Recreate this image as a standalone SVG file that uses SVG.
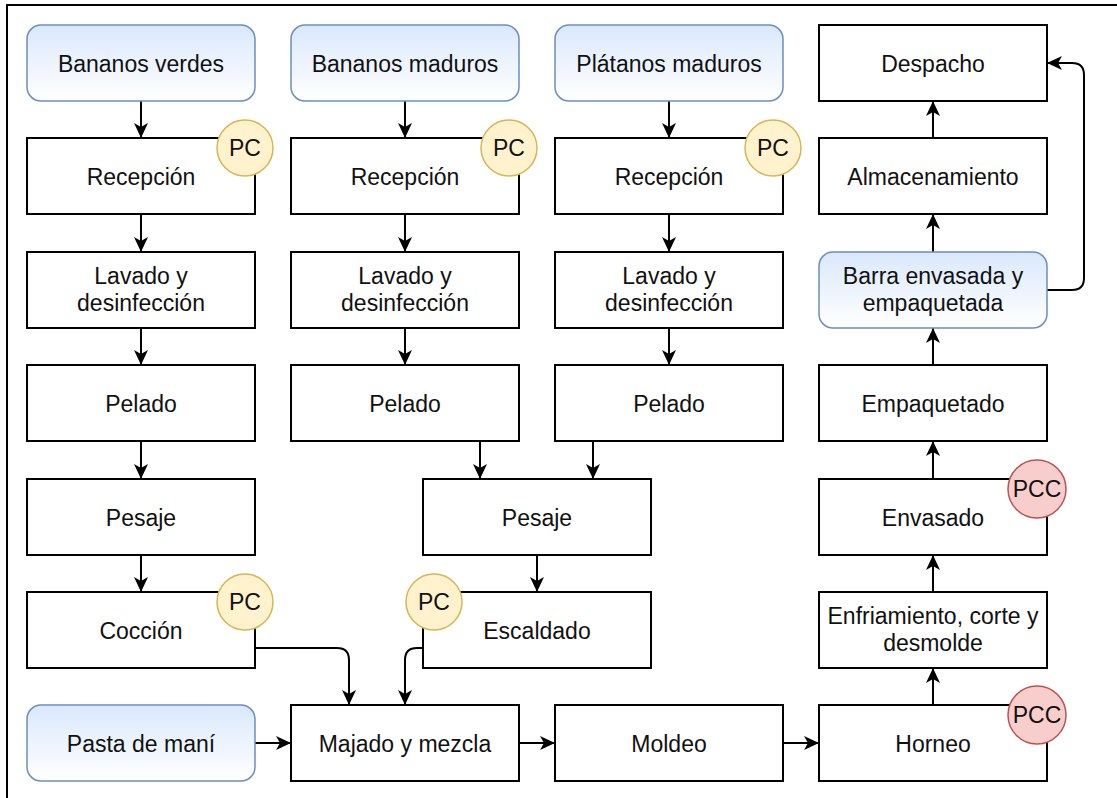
<svg xmlns="http://www.w3.org/2000/svg" width="1117" height="798" viewBox="0 0 1117 798">
  <defs>
    <linearGradient id="blueFill" x1="0" y1="0" x2="0" y2="1">
      <stop offset="0" stop-color="#dae8fc"/>
      <stop offset="1" stop-color="#ffffff"/>
    </linearGradient>
    <marker id="arrow" markerUnits="userSpaceOnUse" markerWidth="17" markerHeight="15" refX="15" refY="7" orient="auto">
      <path d="M0,0 L15,7 L0,14 L4,7 Z" fill="#000"/>
    </marker>
    <style>
      .box { fill: #ffffff; stroke: #000; stroke-width: 2; }
      .start { fill: url(#blueFill); stroke: #6c8ebf; stroke-width: 1.5; }
      .pc { fill: #fff2cc; stroke: #d6b656; stroke-width: 1.5; }
      .pcc { fill: #f8cecc; stroke: #b85450; stroke-width: 1.5; }
      .lbl { font-family: "Liberation Sans", Arial, sans-serif; font-size: 23px; fill: #111; text-anchor: middle; }
      .edge { fill: none; stroke: #000; stroke-width: 2; marker-end: url(#arrow); }
      .frame { fill: none; stroke: #000; stroke-width: 2; }
    </style>
  </defs>

  <rect width="1117" height="798" fill="#ffffff"/>
  <rect class="frame" x="7" y="5" width="1130" height="820"/>

  <!-- connectors -->
  <g id="connectors">
    <!-- Bananos verdes line -->
    <path class="edge" d="M141,101 V138"/>
    <path class="edge" d="M141,214 V252"/>
    <path class="edge" d="M141,328 V365"/>
    <path class="edge" d="M141,441 V479"/>
    <path class="edge" d="M141,555 V592"/>
    <!-- Bananos maduros line -->
    <path class="edge" d="M405,101 V138"/>
    <path class="edge" d="M405,214 V252"/>
    <path class="edge" d="M405,328 V365"/>
    <path class="edge" d="M480,441 V479"/>
    <!-- Plátanos maduros line -->
    <path class="edge" d="M669,101 V138"/>
    <path class="edge" d="M669,214 V252"/>
    <path class="edge" d="M669,328 V365"/>
    <path class="edge" d="M593,441 V479"/>
    <!-- Pesaje to Escaldado -->
    <path class="edge" d="M537,555 V592"/>
    <!-- into Majado y mezcla -->
    <path class="edge" d="M255,648 H337 Q349,648 349,660 V705"/>
    <path class="edge" d="M423,648 H417 Q405,648 405,660 V705"/>
    <path class="edge" d="M255,743 H291"/>
    <!-- bottom row -->
    <path class="edge" d="M519,743 H555"/>
    <path class="edge" d="M783,743 H819"/>
    <!-- right column, upward -->
    <path class="edge" d="M933,705 V668"/>
    <path class="edge" d="M933,592 V555"/>
    <path class="edge" d="M933,479 V441"/>
    <path class="edge" d="M933,365 V328"/>
    <path class="edge" d="M933,252 V214"/>
    <path class="edge" d="M933,138 V101"/>
    <!-- packed bar straight to dispatch -->
    <path class="edge" d="M1047,290 H1072 Q1084,290 1084,278 V75 Q1084,63 1072,63 H1047"/>
  </g>

  <!-- column 1 -->
  <g id="bananos-verdes">
    <rect class="start" x="27" y="25" width="228" height="76" rx="14"/>
    <text class="lbl" x="141" y="71.5">Bananos verdes</text>
  </g>
  <g id="recepcion-1">
    <rect class="box" x="27" y="138" width="228" height="76"/>
    <text class="lbl" x="141" y="184.5">Recepción</text>
  </g>
  <g id="lavado-1">
    <rect class="box" x="27" y="252" width="228" height="76"/>
    <text class="lbl" x="141" y="283.5">Lavado y</text>
    <text class="lbl" x="141" y="310.5">desinfección</text>
  </g>
  <g id="pelado-1">
    <rect class="box" x="27" y="365" width="228" height="76"/>
    <text class="lbl" x="141" y="411.5">Pelado</text>
  </g>
  <g id="pesaje-1">
    <rect class="box" x="27" y="479" width="228" height="76"/>
    <text class="lbl" x="141" y="525.5">Pesaje</text>
  </g>
  <g id="coccion">
    <rect class="box" x="27" y="592" width="228" height="76"/>
    <text class="lbl" x="141" y="638.5">Cocción</text>
  </g>
  <g id="pasta-de-mani">
    <rect class="start" x="27" y="705" width="228" height="76" rx="14"/>
    <text class="lbl" x="141" y="751.5">Pasta de maní</text>
  </g>

  <!-- column 2 -->
  <g id="bananos-maduros">
    <rect class="start" x="291" y="25" width="228" height="76" rx="14"/>
    <text class="lbl" x="405" y="71.5">Bananos maduros</text>
  </g>
  <g id="recepcion-2">
    <rect class="box" x="291" y="138" width="228" height="76"/>
    <text class="lbl" x="405" y="184.5">Recepción</text>
  </g>
  <g id="lavado-2">
    <rect class="box" x="291" y="252" width="228" height="76"/>
    <text class="lbl" x="405" y="283.5">Lavado y</text>
    <text class="lbl" x="405" y="310.5">desinfección</text>
  </g>
  <g id="pelado-2">
    <rect class="box" x="291" y="365" width="228" height="76"/>
    <text class="lbl" x="405" y="411.5">Pelado</text>
  </g>
  <g id="majado">
    <rect class="box" x="291" y="705" width="228" height="76"/>
    <text class="lbl" x="405" y="751.5">Majado y mezcla</text>
  </g>

  <!-- shared middle -->
  <g id="pesaje-2">
    <rect class="box" x="423" y="479" width="228" height="76"/>
    <text class="lbl" x="537" y="525.5">Pesaje</text>
  </g>
  <g id="escaldado">
    <rect class="box" x="423" y="592" width="228" height="76"/>
    <text class="lbl" x="537" y="638.5">Escaldado</text>
  </g>

  <!-- column 3 -->
  <g id="platanos-maduros">
    <rect class="start" x="555" y="25" width="228" height="76" rx="14"/>
    <text class="lbl" x="669" y="71.5">Plátanos maduros</text>
  </g>
  <g id="recepcion-3">
    <rect class="box" x="555" y="138" width="228" height="76"/>
    <text class="lbl" x="669" y="184.5">Recepción</text>
  </g>
  <g id="lavado-3">
    <rect class="box" x="555" y="252" width="228" height="76"/>
    <text class="lbl" x="669" y="283.5">Lavado y</text>
    <text class="lbl" x="669" y="310.5">desinfección</text>
  </g>
  <g id="pelado-3">
    <rect class="box" x="555" y="365" width="228" height="76"/>
    <text class="lbl" x="669" y="411.5">Pelado</text>
  </g>
  <g id="moldeo">
    <rect class="box" x="555" y="705" width="228" height="76"/>
    <text class="lbl" x="669" y="751.5">Moldeo</text>
  </g>

  <!-- column 4 -->
  <g id="despacho">
    <rect class="box" x="819" y="25" width="228" height="76"/>
    <text class="lbl" x="933" y="71.5">Despacho</text>
  </g>
  <g id="almacenamiento">
    <rect class="box" x="819" y="138" width="228" height="76"/>
    <text class="lbl" x="933" y="184.5">Almacenamiento</text>
  </g>
  <g id="barra">
    <rect class="start" x="819" y="252" width="228" height="76" rx="14"/>
    <text class="lbl" x="933" y="283.5">Barra envasada y</text>
    <text class="lbl" x="933" y="310.5">empaquetada</text>
  </g>
  <g id="empaquetado">
    <rect class="box" x="819" y="365" width="228" height="76"/>
    <text class="lbl" x="933" y="411.5">Empaquetado</text>
  </g>
  <g id="envasado">
    <rect class="box" x="819" y="479" width="228" height="76"/>
    <text class="lbl" x="933" y="525.5">Envasado</text>
  </g>
  <g id="enfriamiento">
    <rect class="box" x="819" y="592" width="228" height="76"/>
    <text class="lbl" x="933" y="623.5">Enfriamiento, corte y</text>
    <text class="lbl" x="933" y="650.5">desmolde</text>
  </g>
  <g id="horneo">
    <rect class="box" x="819" y="705" width="228" height="76"/>
    <text class="lbl" x="933" y="751.5">Horneo</text>
  </g>

  <!-- control point badges -->
  <g id="pc-recepcion-1">
    <circle class="pc" cx="245" cy="148" r="28"/>
    <text class="lbl" x="245" y="156">PC</text>
  </g>
  <g id="pc-recepcion-2">
    <circle class="pc" cx="509" cy="148" r="28"/>
    <text class="lbl" x="509" y="156">PC</text>
  </g>
  <g id="pc-recepcion-3">
    <circle class="pc" cx="773" cy="148" r="28"/>
    <text class="lbl" x="773" y="156">PC</text>
  </g>
  <g id="pc-coccion">
    <circle class="pc" cx="245" cy="602" r="28"/>
    <text class="lbl" x="245" y="610">PC</text>
  </g>
  <g id="pc-escaldado">
    <circle class="pc" cx="434" cy="602" r="28"/>
    <text class="lbl" x="434" y="610">PC</text>
  </g>
  <g id="pcc-envasado">
    <circle class="pcc" cx="1037" cy="489" r="29"/>
    <text class="lbl" x="1037" y="497">PCC</text>
  </g>
  <g id="pcc-horneo">
    <circle class="pcc" cx="1037" cy="715" r="29"/>
    <text class="lbl" x="1037" y="723">PCC</text>
  </g>
</svg>
